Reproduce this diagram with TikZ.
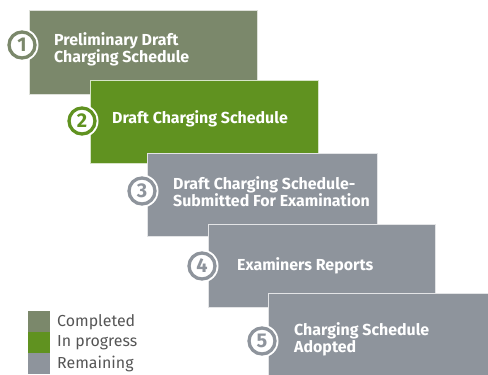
\documentclass[tikz,border=0pt]{standalone}
\usepackage{fontspec}
\setmainfont{Fira Sans}
\definecolor{cdone}{RGB}{123,136,107}
\definecolor{cprog}{RGB}{96,146,32}
\definecolor{crem}{RGB}{142,148,156}
\definecolor{clegend}{RGB}{85,85,85}
\tikzset{
  stagebox/.style={draw=white!75!#1, fill=#1, line width=0.8bp, anchor=north west, inner sep=0pt},
  stagenum/.style={circle, fill=white, draw=#1, line width=3.3bp, minimum size=26bp, inner sep=0pt,
     text=#1, font=\fontsize{20}{20}\selectfont\bfseries},
  numhalo/.style={circle, fill=white, minimum size=33bp, inner sep=0pt},
  stagetxt/.style={text=white, anchor=west, align=left, inner sep=0pt, font=\fontsize{16}{17}\selectfont\bfseries},
  legsq/.style={fill=#1, minimum width=22bp, minimum height=21bp, inner sep=0pt, anchor=north west},
  legtxt/.style={text=clegend, anchor=west, inner sep=0pt, font=\fontsize{16}{16}\selectfont}
}
\begin{document}
\begin{tikzpicture}[x=1bp,y=-1bp]
\useasboundingbox (0,0) rectangle (488,374);
\clip (0,0) rectangle (488,374);
% box 1
\node[stagebox=cdone, minimum width=228bp, minimum height=84bp] (b1) at (29,10) {};
\node[numhalo] (h1) at (22,45) {};
\node[stagenum=cdone] (n1) at (22,45) {1};
\node[stagetxt] (t1) at (54,49) {Preliminary Draft\\Charging Schedule};
% box 2
\node[stagebox=cprog, minimum width=228bp, minimum height=83bp] (b2) at (90,80) {};
\node[numhalo] (h2) at (82,121) {};
\node[stagenum=cprog] (n2) at (82,121) {2};
\node[stagetxt] (t2) at (112,119) {Draft Charging Schedule};
% box 3
\node[stagebox=crem, minimum width=230bp, minimum height=83bp] (b3) at (147,153) {};
\node[numhalo] (h3) at (142,191) {};
\node[stagenum=crem] (n3) at (142,191) {3};
\node[stagetxt] (t3) at (173,192) {Draft Charging Schedule-\\Submitted For Examination};
% box 4
\node[stagebox=crem, minimum width=227bp, minimum height=83bp] (b4) at (208,224) {};
\node[numhalo] (h4) at (202,266) {};
\node[stagenum=crem] (n4) at (202,266) {4};
\node[stagetxt] (t4) at (237,266) {Examiners Reports};
% box 5
\node[stagebox=crem, minimum width=240bp, minimum height=100bp] (b5) at (268,293) {};
\node[numhalo] (h5) at (262,341) {};
\node[stagenum=crem] (n5) at (262,341) {5};
\node[stagetxt] (t5) at (294,339) {Charging Schedule\\Adopted};
% legend
\node[legsq=cdone] (l1) at (28,311) {};
\node[legsq=cprog] (l2) at (28,332) {};
\node[legsq=crem] (l3) at (28,353) {};
\node[legtxt] (lt1) at (57,322) {Completed};
\node[legtxt] (lt2) at (57,343) {In progress};
\node[legtxt] (lt3) at (57,364) {Remaining};
\end{tikzpicture}
\end{document}
